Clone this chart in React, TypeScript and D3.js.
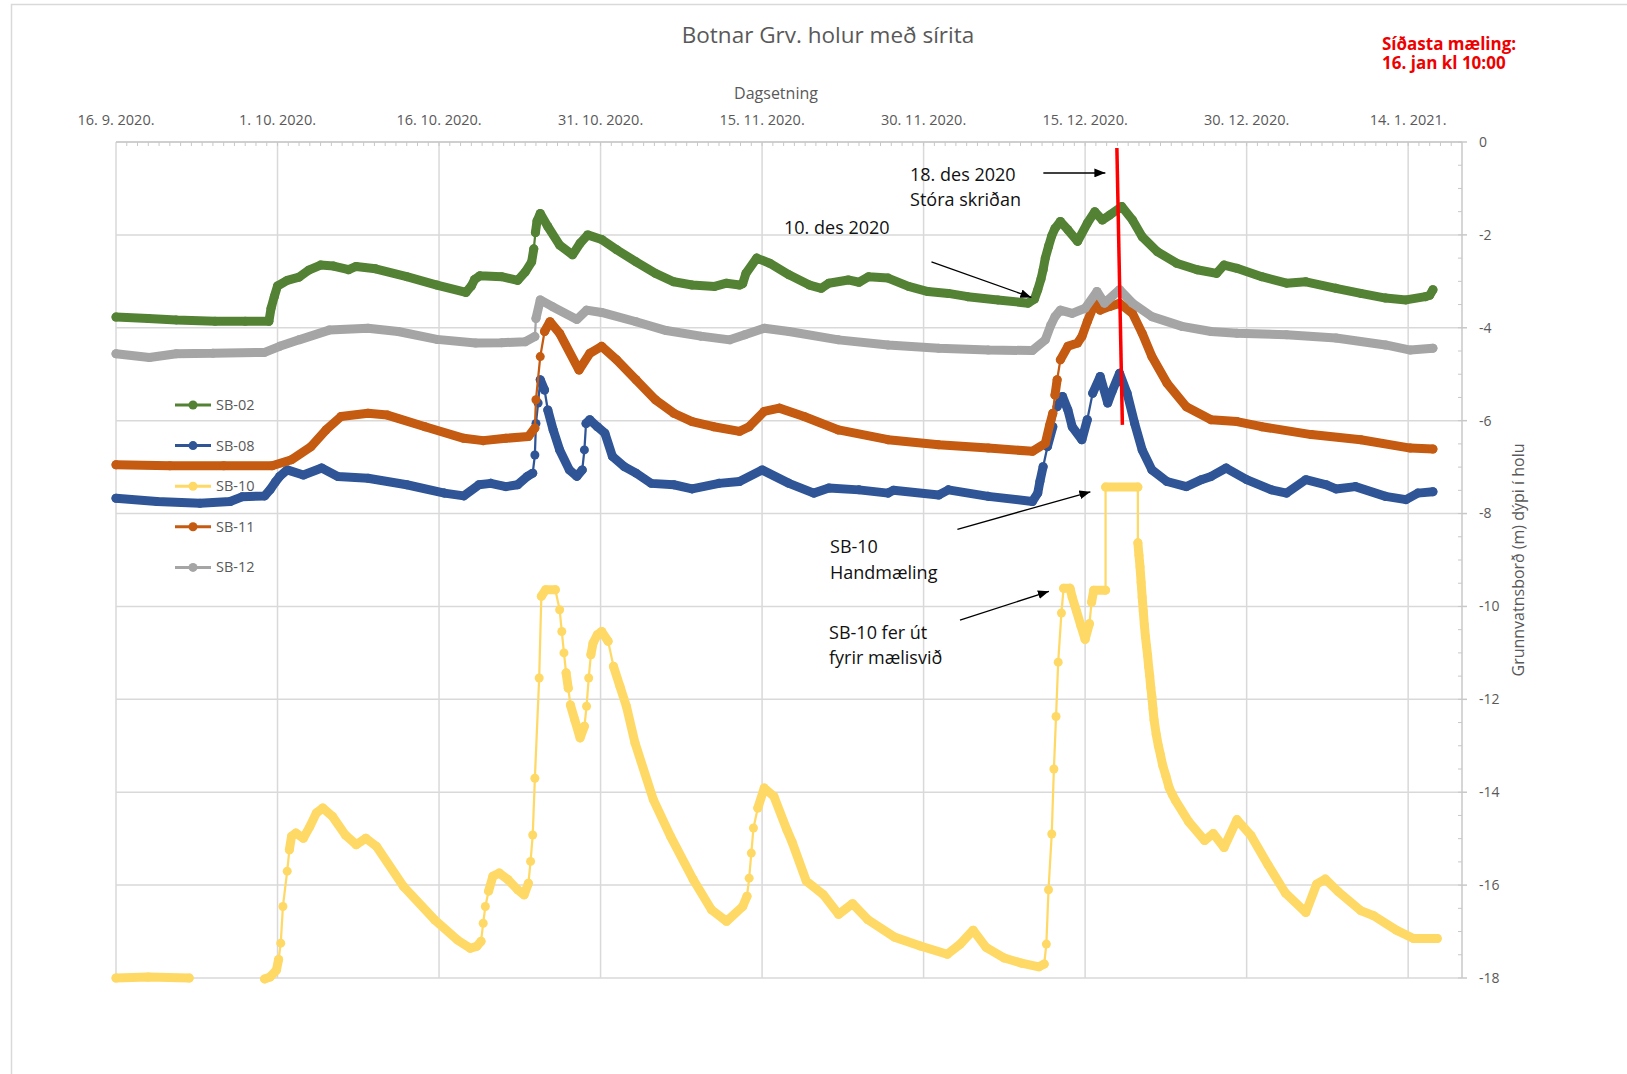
import * as d3 from "d3";

// days since 16. 9. 2020, depth (m)
const START = Date.UTC(2020, 8, 16);
const DAY_MS = 86400000;
const X_END_DAY = 125;

const SERIES_NAMES = ["SB-02", "SB-08", "SB-10", "SB-11", "SB-12"];
const SERIES_COLORS = ["#548235", "#2F5597", "#FFD966", "#C55A11", "#A5A5A5"];

const SB02: [number, number][] = [
  [0, -3.77], [3, -3.8], [5.6, -3.83], [9.2, -3.86], [12, -3.86], [14.2, -3.86],
  [14.4, -3.58], [14.7, -3.33], [15.0, -3.1], [15.9, -2.98], [17.0, -2.91], [17.9, -2.76],
  [19.0, -2.65], [20.2, -2.67], [21.6, -2.75], [22.3, -2.68], [24.1, -2.73], [27.0, -2.9],
  [29.8, -3.08], [32.5, -3.24], [33.0, -3.1], [33.3, -2.96], [33.8, -2.88], [35.8, -2.9],
  [37.3, -2.98], [38.0, -2.8], [38.6, -2.58], [38.8, -2.3], [38.95, -1.95], [39.1, -1.7],
  [39.4, -1.54], [40.1, -1.82], [41.2, -2.22], [42.4, -2.43], [43.1, -2.18], [43.8, -2.0],
  [45.1, -2.1], [46.5, -2.32], [48.3, -2.58], [50.1, -2.83], [51.8, -3.01], [53.5, -3.08],
  [55.6, -3.11], [56.7, -3.04], [57.9, -3.08], [58.2, -3.05], [58.5, -2.83], [59.5, -2.5],
  [60.7, -2.61], [62.5, -2.86], [64.4, -3.08], [65.5, -3.15], [66.2, -3.04], [68.0, -2.97],
  [69.0, -3.02], [69.9, -2.9], [71.7, -2.93], [73.6, -3.11], [75.4, -3.22], [77.3, -3.26],
  [79.1, -3.33], [81.9, -3.4], [84.7, -3.47], [85.3, -3.38], [85.6, -3.18], [85.9, -2.95],
  [86.1, -2.75], [86.3, -2.5], [86.6, -2.25], [86.9, -2.02], [87.2, -1.86], [87.7, -1.71],
  [88.4, -1.89], [89.3, -2.14], [90.2, -1.75], [90.9, -1.5], [91.6, -1.68], [92.3, -1.57],
  [93.4, -1.39], [94.4, -1.68], [95.3, -2.04], [96.7, -2.36], [98.5, -2.61], [100.4, -2.75],
  [102.2, -2.83], [102.9, -2.65], [104.1, -2.72], [106.4, -2.9], [108.7, -3.04], [110.5, -3.01],
  [113.3, -3.15], [115.6, -3.26], [117.9, -3.36], [119.8, -3.4], [121.6, -3.33], [122.0, -3.3],
  [122.3, -3.18],
];

const SB08: [number, number][] = [
  [0, -7.67], [3.8, -7.74], [7.8, -7.78], [10.6, -7.74], [11.7, -7.64], [13.8, -7.62],
  [14.3, -7.49], [14.8, -7.32], [15.2, -7.2], [15.9, -7.06], [17.4, -7.17], [19.1, -7.02],
  [20.6, -7.2], [23.4, -7.24], [27.0, -7.38], [30.5, -7.56], [32.3, -7.62], [33.7, -7.38],
  [34.8, -7.35], [36.2, -7.42], [37.3, -7.38], [38.2, -7.2], [38.7, -7.13], [38.9, -6.74],
  [39.0, -6.06], [39.2, -5.62], [39.4, -5.12], [39.8, -5.34], [40.1, -5.77], [40.6, -6.2],
  [41.2, -6.63], [42.1, -7.06], [42.8, -7.2], [43.3, -7.06], [43.5, -6.63], [43.65, -6.06],
  [44.0, -5.98], [44.7, -6.13], [45.4, -6.27], [46.1, -6.77], [47.2, -6.99], [48.3, -7.13],
  [49.7, -7.35], [51.8, -7.38], [53.5, -7.47], [56.0, -7.35], [57.9, -7.31], [60.0, -7.06],
  [62.5, -7.35], [64.8, -7.56], [66.2, -7.45], [69.0, -7.49], [71.7, -7.56], [72.2, -7.5],
  [76.4, -7.6], [77.3, -7.49], [81.0, -7.63], [85.1, -7.74], [85.6, -7.56], [85.8, -7.31],
  [86.1, -6.99], [86.5, -6.56], [87.0, -6.13], [87.4, -5.7], [87.9, -5.48], [88.4, -5.77],
  [88.8, -6.13], [89.7, -6.41], [90.2, -5.98], [90.7, -5.41], [91.4, -5.05], [92.1, -5.62],
  [92.5, -5.37], [93.2, -4.98], [93.9, -5.41], [94.6, -6.06], [95.3, -6.63], [96.2, -7.06],
  [97.6, -7.31], [99.4, -7.42], [100.8, -7.27], [101.7, -7.2], [103.1, -7.02], [105.0, -7.27],
  [107.3, -7.49], [108.7, -7.56], [110.5, -7.27], [112.4, -7.38], [113.3, -7.47], [115.1, -7.42],
  [117.9, -7.63], [119.8, -7.7], [120.9, -7.56], [122.3, -7.53],
];

// null = no readings
const SB10: ([number, number] | null)[] = [
  [0, -18.0], [3, -17.98], [6.8, -18.0], null,
  [13.8, -18.02], [14.3, -17.98], [14.9, -17.83], [15.1, -17.6], [15.3, -17.25], [15.5, -16.46],
  [15.9, -15.7], [16.1, -15.24], [16.3, -14.95], [16.7, -14.88], [17.4, -14.99], [18.0, -14.74],
  [18.6, -14.45], [19.2, -14.34], [20.1, -14.52], [21.3, -14.92], [22.3, -15.13], [23.2, -14.99],
  [24.2, -15.17], [26.7, -16.03], [29.6, -16.75], [31.7, -17.18], [32.9, -17.36], [33.5, -17.32],
  [33.9, -17.21], [34.1, -16.82], [34.3, -16.46], [34.6, -16.13], [35.0, -15.81], [35.6, -15.74],
  [36.4, -15.88], [37.3, -16.1], [37.9, -16.21], [38.3, -15.96], [38.5, -15.49], [38.7, -14.92],
  [38.9, -13.7], [39.3, -11.54], [39.5, -9.78], [39.9, -9.64], [40.8, -9.64], [41.2, -10.07],
  [41.4, -10.54], [41.6, -11.0], [41.8, -11.43], [42.0, -11.76], [42.2, -12.12], [42.6, -12.44],
  [43.1, -12.83], [43.5, -12.58], [43.7, -12.15], [43.9, -11.54], [44.1, -11.04], [44.3, -10.79],
  [44.7, -10.61], [45.1, -10.54], [45.7, -10.75], [46.2, -11.29], [46.8, -11.72], [47.4, -12.15],
  [48.2, -12.94], [49.9, -14.16], [51.5, -14.95], [53.6, -15.88], [55.3, -16.53], [56.7, -16.78],
  [58.2, -16.46], [58.6, -16.24], [58.8, -15.85], [59.0, -15.31], [59.2, -14.77], [59.6, -14.34],
  [60.2, -13.91], [61.1, -14.09], [62.3, -14.81], [62.8, -15.08], [64.1, -15.91], [65.7, -16.21],
  [67.1, -16.63], [68.4, -16.4], [69.8, -16.74], [72.3, -17.12], [74.7, -17.31], [77.2, -17.49],
  [78.4, -17.27], [79.6, -16.97], [80.8, -17.34], [82.5, -17.57], [84.1, -17.68], [85.7, -17.76],
  [86.2, -17.7], [86.4, -17.27], [86.6, -16.1], [86.9, -14.9], [87.1, -13.5], [87.3, -12.37],
  [87.5, -11.2], [87.8, -10.14], [88.0, -9.61], [88.6, -9.61], [88.8, -9.8], [89.2, -10.1],
  [89.6, -10.41], [90.0, -10.71], [90.4, -10.37], [90.6, -9.91], [90.8, -9.65], [91.9, -9.65],
  [91.9, -7.43], [94.9, -7.43], [94.9, -8.63], [95.0, -8.9], [95.1, -9.15], [95.2, -9.48],
  [95.3, -9.8], [95.4, -10.1], [95.5, -10.4], [95.6, -10.65], [95.7, -10.85], [95.8, -11.05],
  [95.9, -11.3], [96.0, -11.5], [96.1, -11.75], [96.2, -11.95], [96.3, -12.2], [96.4, -12.44],
  [96.6, -12.75], [96.8, -13.0], [97.0, -13.2], [97.2, -13.42], [97.5, -13.65], [97.8, -13.9],
  [98.1, -14.05], [98.4, -14.18], [99.6, -14.63], [101.1, -15.04], [101.9, -14.89], [102.9, -15.19],
  [104.1, -14.59], [105.4, -14.93], [107.0, -15.57], [108.6, -16.17], [110.5, -16.59], [111.5, -15.98],
  [112.3, -15.87], [113.5, -16.14], [115.6, -16.55], [116.8, -16.66], [118.9, -16.97], [120.5, -17.15],
  [122.7, -17.15],
];

const SB11: [number, number][] = [
  [0, -6.95], [5, -6.97], [10, -6.97], [14.5, -6.97], [16.3, -6.84], [18.1, -6.56],
  [19.5, -6.2], [20.9, -5.91], [23.4, -5.84], [25.2, -5.88], [28.7, -6.13], [32.3, -6.38],
  [34.1, -6.43], [36.2, -6.38], [38.3, -6.34], [38.9, -6.16], [39.0, -5.55], [39.4, -4.62],
  [39.8, -4.08], [40.3, -3.87], [41.2, -4.12], [43.0, -4.91], [44.0, -4.55], [45.1, -4.4],
  [46.5, -4.69], [48.3, -5.12], [50.1, -5.55], [51.8, -5.84], [53.5, -6.02], [55.5, -6.13],
  [57.9, -6.23], [58.8, -6.13], [60.2, -5.8], [61.6, -5.73], [63.9, -5.91], [67.1, -6.2],
  [71.7, -6.41], [76.4, -6.52], [81.0, -6.59], [85.1, -6.66], [86.3, -6.49], [86.7, -6.1],
  [87.0, -5.84], [87.2, -5.45], [87.4, -5.12], [87.7, -4.69], [88.4, -4.4], [89.3, -4.33],
  [89.7, -4.19], [90.2, -3.87], [90.9, -3.47], [91.4, -3.62], [92.3, -3.54], [93.2, -3.47],
  [94.4, -3.69], [95.3, -4.12], [96.2, -4.62], [97.6, -5.19], [99.4, -5.7], [101.7, -5.98],
  [104.1, -6.02], [106.4, -6.13], [111.0, -6.3], [115.6, -6.41], [120.2, -6.59], [122.3, -6.61],
];

const SB12: [number, number][] = [
  [0, -4.56], [3.1, -4.64], [5.6, -4.56], [9, -4.55], [13.8, -4.53], [15.2, -4.4],
  [17.0, -4.26], [19.8, -4.05], [23.4, -4.01], [26.2, -4.08], [29.8, -4.25], [33.4, -4.33],
  [35.8, -4.32], [38.0, -4.3], [38.9, -4.19], [39.0, -3.8], [39.4, -3.4], [40.5, -3.54],
  [42.8, -3.82], [43.7, -3.62], [45.1, -3.67], [48.3, -3.87], [51.1, -4.06], [54.3, -4.18],
  [57.0, -4.26], [58.4, -4.15], [60.2, -4.01], [62.5, -4.08], [67.1, -4.26], [71.7, -4.37],
  [76.4, -4.44], [81.0, -4.48], [85.1, -4.49], [86.3, -4.26], [86.8, -3.95], [87.2, -3.76],
  [87.7, -3.62], [88.8, -3.69], [90.0, -3.58], [91.1, -3.22], [91.8, -3.47], [93.2, -3.18],
  [94.4, -3.47], [96.2, -3.76], [99.0, -3.97], [101.7, -4.08], [104.1, -4.12], [108.7, -4.15],
  [113.3, -4.22], [117.9, -4.37], [120.2, -4.48], [122.3, -4.44],
];

const SERIES = [SB02, SB08, SB10, SB11, SB12];

const X_TICK_DAYS = d3.range(0, 121, 15);
const Y_TICKS = d3.range(0, -19, -2);
const Y_MINOR = d3.range(0, -18.01, -0.5);

// the red "last reading" marker line: [day, depth]
const RED_LINE: [number, number][] = [[92.95, -0.13], [93.46, -6.09]];

// arrows: from [day, depth] to [day, depth]
const ARROWS: [number, number, number, number][] = [
  [86.12, -0.667, 91.88, -0.667],
  [75.73, -2.582, 85.01, -3.346],
  [78.14, -8.339, 90.49, -7.532],
  [78.38, -10.297, 86.64, -9.673],
];

const NOTES: { day: number; depth: number; text: string }[] = [
  { day: 73.74, depth: -0.71, text: "18. des 2020" },
  { day: 73.74, depth: -1.248, text: "Stóra skriðan" },
  { day: 62.04, depth: -1.84, text: "10. des 2020" },
  { day: 66.31, depth: -8.715, text: "SB-10" },
  { day: 66.31, depth: -9.264, text: "Handmæling" },
  { day: 66.22, depth: -10.555, text: "SB-10 fer út" },
  { day: 66.22, depth: -11.104, text: "fyrir mælisvið" },
];

const W = 1627;
const H = 1074;
const FONT = "'Open Sans', 'Noto Sans', sans-serif";
const TXT = "#595959";
const GRID = "#D9D9D9";

const toDate = (day: number) => new Date(START + day * DAY_MS);

export default function App() {
  const x = d3.scaleUtc().domain([toDate(0), toDate(X_END_DAY)]).range([116, 1462]);
  const y = d3.scaleLinear().domain([-18, 0]).range([978, 142]);
  const fmt = d3.utcFormat("%-d. %-m. %Y.");
  const line = d3
    .line<[number, number] | null>()
    .defined((d) => d != null)
    .x((d) => x(toDate(d![0])))
    .y((d) => y(d![1]));

  const renderSeries = (data: ([number, number] | null)[], color: string, key: string) => {
    // dense readings merge into a solid band; steep jumps show as a thin line with dots
    let thick = "";
    for (let i = 1; i < data.length; i++) {
      const a = data[i - 1];
      const b = data[i];
      if (!a || !b) continue;
      const ax = x(toDate(a[0])), ay = y(a[1]);
      const bx = x(toDate(b[0])), by = y(b[1]);
      const dx = Math.abs(bx - ax), dy = Math.abs(by - ay);
      if (dy <= 4.5 * dx || Math.hypot(dx, dy) <= 15.5) {
        thick += `M${ax},${ay}L${bx},${by}`;
      }
    }
    return (
      <g key={key}>
        <path d={line(data) || ""} fill="none" stroke={color} strokeWidth={2.25} strokeLinejoin="round" />
        <path d={thick} fill="none" stroke={color} strokeWidth={9} strokeLinecap="round" strokeLinejoin="round" />
        {data.map((d, i) =>
          d ? <circle key={i} cx={x(toDate(d[0]))} cy={y(d[1])} r={4.5} fill={color} /> : null
        )}
      </g>
    );
  };

  return (
    <div style={{ position: "absolute", left: 0, top: 0 }}>
      <svg width={W} height={H} style={{ display: "block", fontFamily: FONT }}>
        <defs>
          <marker id="arrow" viewBox="0 0 10 8" refX={10} refY={4} markerWidth={11} markerHeight={9}
            markerUnits="userSpaceOnUse" orient="auto">
            <path d="M0,0L10,4L0,8Z" fill="#000" />
          </marker>
        </defs>
        <rect width={W} height={H} fill="#fff" />
        <rect x={11.5} y={4.5} width={W} height={H} fill="none" stroke={GRID} strokeWidth={1.5} />

        {/* gridlines */}
        {X_TICK_DAYS.map((d) => (
          <line key={"gx" + d} x1={x(toDate(d))} x2={x(toDate(d))} y1={y(0)} y2={y(-18)} stroke={GRID} strokeWidth={1.5} />
        ))}
        {Y_TICKS.map((v) => (
          <line key={"gy" + v} x1={x(toDate(0))} x2={1462} y1={y(v)} y2={y(v)} stroke={GRID} strokeWidth={1.5} />
        ))}

        {/* top date axis */}
        <line x1={x(toDate(0))} x2={1462} y1={y(0)} y2={y(0)} stroke="#C8C8C8" strokeWidth={1.5} />
        {d3.range(1, X_END_DAY).map((d) => (
          <line key={"mt" + d} x1={x(toDate(d))} x2={x(toDate(d))} y1={y(0)} y2={y(0) + 4} stroke="#C8C8C8" strokeWidth={1} />
        ))}
        {X_TICK_DAYS.map((d) => (
          <text key={"xl" + d} x={x(toDate(d))} y={120} dy="0.35em" textAnchor="middle" fontSize={14.5} fill={TXT}>
            {fmt(toDate(d))}
          </text>
        ))}
        <text x={776} y={93.5} dy="0.35em" textAnchor="middle" fontSize={16} fill={TXT}>Dagsetning</text>

        {/* right depth axis */}
        <line x1={1462} x2={1462} y1={y(0)} y2={y(-18)} stroke="#C8C8C8" strokeWidth={1.5} />
        {Y_MINOR.map((v) => (
          <line key={"ym" + v} x1={1458} x2={1462} y1={y(v)} y2={y(v)} stroke="#C8C8C8" strokeWidth={1} />
        ))}
        {Y_TICKS.map((v) => (
          <g key={"yt" + v}>
            <line x1={1462} x2={1467} y1={y(v)} y2={y(v)} stroke="#C8C8C8" strokeWidth={1.5} />
            <text x={1479} y={y(v)} dy="0.35em" fontSize={14} fill={TXT}>{String(v)}</text>
          </g>
        ))}
        <text transform={`translate(1518,${(y(0) + y(-18)) / 2}) rotate(-90)`} dy="0.35em" textAnchor="middle" fontSize={16} fill={TXT}>
          Grunnvatnsborð (m) dýpi í holu
        </text>

        {/* series */}
        {SERIES.map((s, i) => renderSeries(s, SERIES_COLORS[i], SERIES_NAMES[i]))}

        {/* red marker line */}
        <line
          x1={x(toDate(RED_LINE[0][0]))} y1={y(RED_LINE[0][1])}
          x2={x(toDate(RED_LINE[1][0]))} y2={y(RED_LINE[1][1])}
          stroke="#FF0000" strokeWidth={3.5}
        />

        {/* annotations */}
        {ARROWS.map((a, i) => (
          <line key={"ar" + i} x1={x(toDate(a[0]))} y1={y(a[1])} x2={x(toDate(a[2]))} y2={y(a[3])}
            stroke="#000" strokeWidth={1.3} markerEnd="url(#arrow)" />
        ))}
        {NOTES.map((n, i) => (
          <text key={"nt" + i} x={x(toDate(n.day))} y={y(n.depth)} dy="0.35em" fontSize={18} fill="#111">{n.text}</text>
        ))}

        {/* legend */}
        {SERIES_NAMES.map((name, i) => {
          const ly = 405 + i * 40.6;
          return (
            <g key={"lg" + name}>
              <line x1={175} x2={211} y1={ly} y2={ly} stroke={SERIES_COLORS[i]} strokeWidth={3} />
              <circle cx={193} cy={ly} r={4.5} fill={SERIES_COLORS[i]} />
              <text x={216} y={ly} dy="0.35em" fontSize={14.5} fill={TXT}>{name}</text>
            </g>
          );
        })}

        {/* titles */}
        <text x={828} y={35} dy="0.35em" textAnchor="middle" fontSize={22.5} fill={TXT}>
          Botnar Grv. holur með sírita
        </text>
        <text x={1382} y={43.6} dy="0.35em" fontSize={17} fontWeight="bold" fill="#EE0000">Síðasta mæling:</text>
        <text x={1382} y={63.3} dy="0.35em" fontSize={17} fontWeight="bold" fill="#EE0000">16. jan kl 10:00</text>
      </svg>
    </div>
  );
}
